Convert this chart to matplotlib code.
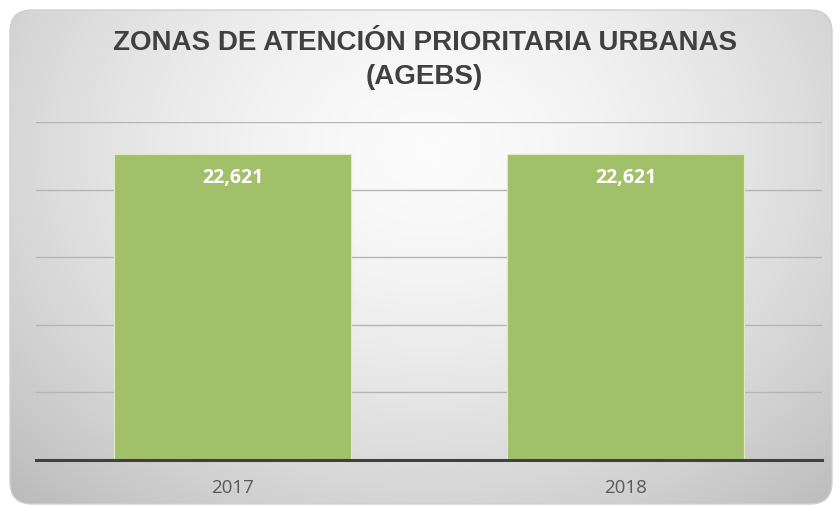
import numpy as np
import matplotlib
matplotlib.use("Agg")
import matplotlib.pyplot as plt
from matplotlib.patches import FancyBboxPatch

years = ["2017", "2018"]
values = [22621, 22621]
title_lines = ["ZONAS DE ATENCIÓN PRIORITARIA URBANAS", "(AGEBS)"]

W, H = 838, 508
fig = plt.figure(figsize=(W / 100, H / 100), dpi=100)
fig.patch.set_facecolor("white")

# background card with radial gradient
bg = fig.add_axes([0, 0, 1, 1])
bg.set_xlim(0, W)
bg.set_ylim(H, 0)
bg.axis("off")
yy, xx = np.mgrid[0:H, 0:W]
cx, cy = 430, 150
r = np.sqrt(((xx - cx) / 520.0) ** 2 + ((yy - cy) / 420.0) ** 2)
val = 0.985 - 0.20 * np.clip(r, 0, 1.3) ** 1.6
img = np.dstack([val, val, val])
card = FancyBboxPatch((10, 10), 822, 494, boxstyle="round,pad=0,rounding_size=22",
                      facecolor="none", edgecolor="#d0d0d0", linewidth=1.0, zorder=3)
bg.add_patch(card)
im = bg.imshow(img, extent=(0, W, H, 0), zorder=1, interpolation="bilinear")
im.set_clip_path(card)

# plot axes
left, right = 36 / W, 822 / W
bottom, top = 1 - 460 / H, 1 - 122 / H
ax = fig.add_axes([left, bottom, right - left, top - bottom])
ax.patch.set_alpha(0)
x = np.arange(len(years))
bars = ax.bar(x, values, width=0.603, color="#a2c06a", edgecolor="#dcebc6",
              linewidth=0.8, zorder=3)
ax.set_xlim(-0.5, 1.5)
ax.set_ylim(0, 25000)
ax.set_yticks([5000, 10000, 15000, 20000, 25000])
ax.yaxis.grid(True, color="#b5b5b5", linewidth=1.0, zorder=0)
ax.set_axisbelow(True)
for s in ["left", "right", "top"]:
    ax.spines[s].set_visible(False)
ax.spines["bottom"].set_color("#404040")
ax.spines["bottom"].set_linewidth(2.2)
ax.spines["bottom"].set_zorder(4)
ax.tick_params(axis="y", left=False, labelleft=False)
ax.tick_params(axis="x", length=0, pad=13.5)
ax.set_xticks(x)
ax.set_xticklabels(years, fontsize=13.5, color="#595959", family="Open Sans")

for xi, v in zip(x, values):
    ax.annotate(f"{v:,}", (xi, v), xytext=(0, -17), textcoords="offset points",
                ha="center", va="center", color="white", fontsize=14,
                fontweight="bold", family="Open Sans", zorder=5)

bg.text(425, 43, title_lines[0], ha="center", va="center", fontsize=20,
        fontweight="bold", color="#404040", family="Liberation Sans", zorder=5)
bg.text(424, 77, title_lines[1], ha="center", va="center", fontsize=20,
        fontweight="bold", color="#404040", family="Liberation Sans", zorder=5)

fig.savefig("out.png", dpi=100)
